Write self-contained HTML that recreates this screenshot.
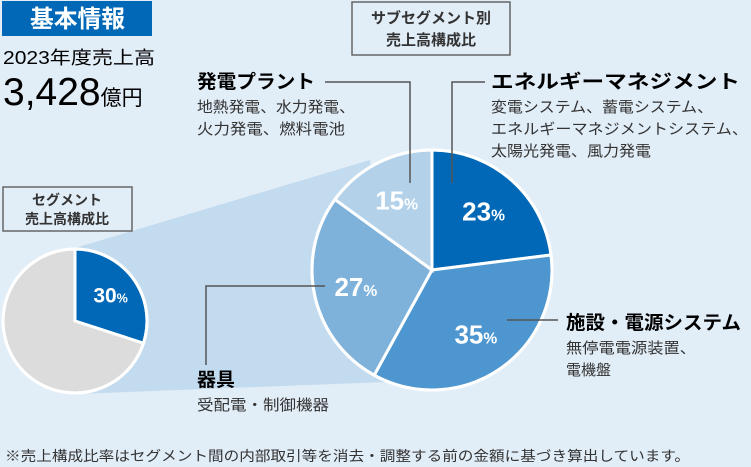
<!DOCTYPE html>
<html><head><meta charset="utf-8"><style>
body{margin:0;width:751px;height:467px;overflow:hidden;background:#e1edf7;font-family:"Liberation Sans","Noto Sans CJK JP",sans-serif;color:#231815}
</style></head><body>
<svg width="751" height="467" style="position:absolute;left:0;top:0">
<rect width="751" height="467" fill="#e1edf7"/>
<rect x="2" y="1" width="150" height="35" fill="#0068b7"/>
<text x="30" y="27" textLength="95" lengthAdjust="spacingAndGlyphs" fill="#fff" font-size="24" font-weight="bold">基本情報</text>
<text x="3" y="64" textLength="152" lengthAdjust="spacingAndGlyphs" font-size="18">2023年度売上高</text>
<text x="3" y="105" font-size="39">3,428<tspan font-size="21">億円</tspan></text>
<polygon points="75,248 370,160 385,382 75,394" fill="#c3dbee"/>
<g id="small"></g>
<g id="big"></g>
<rect x="3" y="187" width="129" height="44" fill="#e1edf7" stroke="#666" stroke-width="1.5"/>
<text x="67" y="205" text-anchor="middle" font-size="14" font-weight="bold" fill="#333">セグメント</text>
<text x="67" y="224" text-anchor="middle" font-size="14" font-weight="bold" fill="#333">売上高構成比</text>
<rect x="352" y="2" width="158" height="53" fill="#e1edf7" stroke="#666" stroke-width="1.5"/>
<text x="431" y="23" text-anchor="middle" font-size="15" font-weight="bold" fill="#333">サブセグメント別</text>
<text x="431" y="45" text-anchor="middle" font-size="15" font-weight="bold" fill="#333">売上高構成比</text>
<g stroke="#555" stroke-width="1.5" fill="none">
<polyline points="325,82 410,82 410,183"/>
<polyline points="485,82 452,82 452,183"/>
<line x1="507" y1="320" x2="558" y2="320"/>
<polyline points="325,286 206,286 206,365"/>
</g>
<text x="197" y="88" textLength="118" lengthAdjust="spacingAndGlyphs" font-size="19" font-weight="bold">発電プラント</text>
<text x="197" y="112" textLength="158" lengthAdjust="spacingAndGlyphs" font-size="15" fill="#333">地熱発電、水力発電、</text>
<text x="197" y="134" textLength="148" lengthAdjust="spacingAndGlyphs" font-size="15" fill="#333">火力発電、燃料電池</text>
<text x="491" y="88" textLength="249" lengthAdjust="spacingAndGlyphs" font-size="19" font-weight="bold">エネルギーマネジメント</text>
<text x="491" y="112" textLength="222" lengthAdjust="spacingAndGlyphs" font-size="15" fill="#333">変電システム、蓄電システム、</text>
<text x="491" y="134" textLength="257" lengthAdjust="spacingAndGlyphs" font-size="15" fill="#333">エネルギーマネジメントシステム、</text>
<text x="491" y="156" textLength="160" lengthAdjust="spacingAndGlyphs" font-size="15" fill="#333">太陽光発電、風力発電</text>
<text x="566" y="329" textLength="175" lengthAdjust="spacingAndGlyphs" font-size="19" font-weight="bold">施設・電源システム</text>
<text x="566" y="353" textLength="130" lengthAdjust="spacingAndGlyphs" font-size="15" fill="#333">無停電電源装置、</text>
<text x="566" y="375" font-size="15" fill="#333">電機盤</text>
<text x="197" y="386" font-size="19" font-weight="bold">器具</text>
<text x="197" y="410" textLength="132" lengthAdjust="spacingAndGlyphs" font-size="15" fill="#333">受配電・制御機器</text>
<text x="5" y="461" textLength="685" lengthAdjust="spacingAndGlyphs" font-size="14" fill="#333">※売上構成比率はセグメント間の内部取引等を消去・調整する前の金額に基づき算出しています。</text>
</svg>
<script>
const bigValues=[23,35,27,15];
const bigColors=['#0068b7','#4d96cf','#7fb2da','#b3d2ea'];
const smallValues=[30,70];
const smallColors=['#0068b7','#dcdcdc'];
const NS='http://www.w3.org/2000/svg';
function pie(gid,vals,cols,cx,cy,r,labelR,fs,showIdx){
  const g=document.getElementById(gid);
  const tot=vals.reduce((a,b)=>a+b,0);let a0=0;
  vals.forEach((v,i)=>{
    const a1=a0+v/tot*2*Math.PI;
    const p=(a)=>[cx+r*Math.sin(a),cy-r*Math.cos(a)];
    const [x0,y0]=p(a0),[x1,y1]=p(a1);
    const path=document.createElementNS(NS,'path');
    path.setAttribute('d',`M${cx},${cy}L${x0},${y0}A${r},${r} 0 ${a1-a0>Math.PI?1:0} 1 ${x1},${y1}Z`);
    path.setAttribute('fill',cols[i]);path.setAttribute('stroke','#fff');path.setAttribute('stroke-width','3');
    
    
    g.appendChild(path);
    if(showIdx.includes(i)){
      const m=(a0+a1)/2;
      const t=document.createElementNS(NS,'text');
      t.setAttribute('x',cx+labelR*Math.sin(m));t.setAttribute('y',cy-labelR*Math.cos(m)+fs*0.35);
      t.setAttribute('text-anchor','middle');t.setAttribute('fill','#fff');t.setAttribute('font-weight','bold');t.setAttribute('font-size',fs);
      t.innerHTML=v+'<tspan font-size="'+(fs*0.6)+'">%</tspan>';
      
      
      g.appendChild(t);
    }
    a0=a1;
  });
  const c=document.createElementNS(NS,'circle');
  c.setAttribute('cx',cx);c.setAttribute('cy',cy);c.setAttribute('r',r);c.setAttribute('fill','none');c.setAttribute('stroke','#fff');c.setAttribute('stroke-width','3');
  
  
  g.appendChild(c);
}
pie('small',smallValues,smallColors,75,321,72,44,21,[0]);
pie('big',bigValues,bigColors,432,270,120,78,26,[0,1,2,3]);
</script>
</body></html>
